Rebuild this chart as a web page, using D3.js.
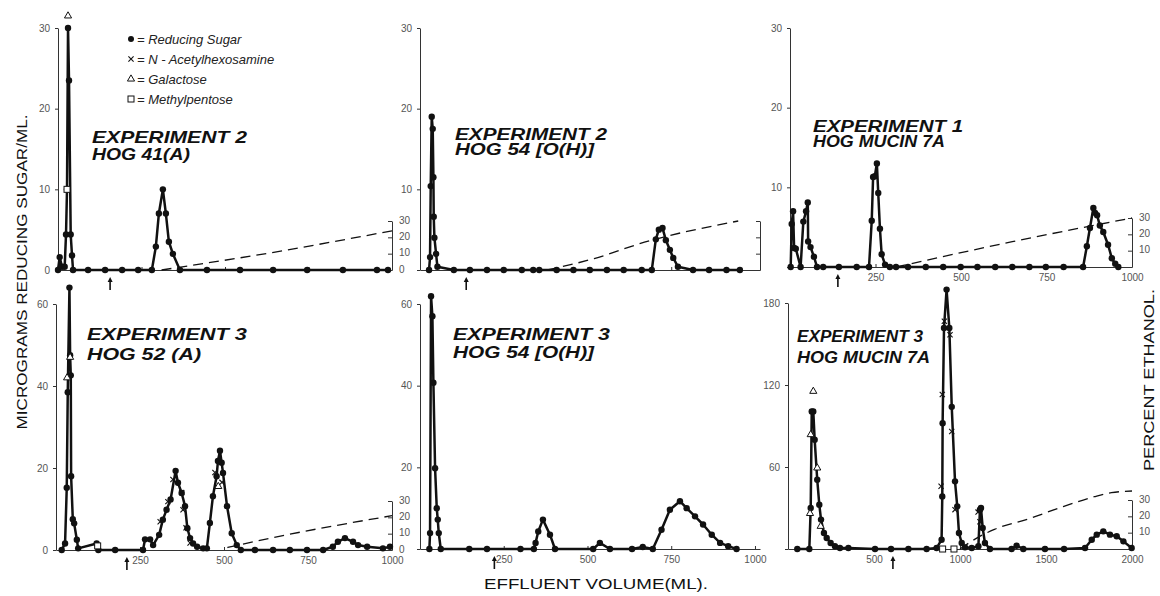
<!DOCTYPE html>
<html>
<head>
<meta charset="utf-8">
<script src="https://cdn.jsdelivr.net/npm/d3@7"></script>
<style>
  body { margin: 0; background: #fff; }
  svg { display: block; font-family: 'Liberation Sans', Arial, sans-serif; }
  .tick text { fill: #555; font-size: 10px; }
  .axis path, .axis line { stroke: #333; }
</style>
</head>
<body>
<svg id="chart" width="1160" height="596"></svg>
<script>
'use strict';

// [effluent volume (ml), micrograms reducing sugar / ml]
const sugar1 = [[0,0],[5,1.6],[12,0.4],[20,0.4],[24,4.4],[27,10],[30,30],[33,23.5],[38,4.4],[42,1.8],[45,0],[90,0],[141,0],[192,0],[240,0],[281,0],[293,2.9],[302,7],[314,10],[323,7],[332,3.5],[344,2],[365,0],[446,0],[545,0],[644,0],[746,0],[853,0],[955,0],[988,0]]
const sugar2 = [[27,0],[30,1.6],[32,10.4],[35,19],[38,17.5],[40,11.5],[41,6.6],[43,4],[48,2],[52,0.4],[101,0],[149,0],[200,0],[250,0],[304,0],[338,0],[356,0],[408,0],[458,0],[507,0],[558,0],[608,0],[662,0],[692,0],[704,3.8],[713,5],[724,5.2],[734,3.7],[746,2.5],[756,1.5],[770,0.4],[815,0],[863,0],[915,0],[955,0]]
const sugar3 = [[2,0],[5,5.4],[9,7],[12,2.4],[17,2.3],[31,0],[39,5.7],[47,7],[52,8.1],[53,3.2],[60,2.5],[70,1.3],[79,0],[97,0],[143,0],[195,0],[231,0],[239,5.8],[243,11.3],[248,11.4],[254,13],[258,9.3],[263,4.8],[268,1.6],[278,0.3],[292,0],[310,0],[345,0],[397,0],[448,0],[499,0],[548,0],[600,0],[650,0],[700,0],[748,0],[800,0],[857,0],[868,2.6],[877,4.9],[887,7.4],[892,6.8],[898,6.5],[906,5.2],[916,4.4],[930,2.8],[941,1.1],[951,0.4],[960,0]]
const sugar4 = [[17,0],[27,1.6],[32,15.2],[35,38.5],[40,64],[42,47.5],[44,42.6],[45,18],[50,7.5],[54,6.5],[62,2.5],[66,0.4],[121,1.6],[126,0],[176,0],[259,0],[265,2.6],[280,2.6],[289,1.2],[307,3.7],[318,7.4],[329,9.8],[341,12.3],[356,19.3],[363,16.4],[374,13.9],[384,10.7],[391,5.3],[399,2.9],[408,1.6],[420,0.8],[438,0.4],[449,0.4],[458,6.6],[467,13.1],[478,18],[482,21.7],[488,24.2],[493,21.3],[497,18.8],[509,10.7],[523,4.1],[538,1.2],[550,0],[592,0],[646,0],[696,0],[747,0],[795,0],[824,0.8],[839,2],[860,2.9],[884,2],[899,1.2],[926,0.8],[973,0.4],[994,0.8]]
const sugar5 = [[28,0],[30,3.9],[33,61.9],[37,57],[40,40.7],[45,19.8],[50,10],[53,7.2],[56,3.9],[62,0],[147,0],[200,0],[300,0],[340,0],[345,1.5],[353,4.3],[367,7.2],[388,3.5],[403,0],[517,0],[537,1.5],[567,0],[633,0],[665,0.5],[695,0],[721,4.7],[746,9.6],[776,11.7],[796,10],[821,8],[845,6],[871,3.5],[896,1.5],[920,0.7],[945,0]]
const sugar6 = [[54,0],[124,0],[132,30],[138,100.7],[147,100.7],[155,80],[170,50.7],[182,32.4],[192,21.5],[209,11.7],[225,8],[248,4.4],[273,2],[302,0.7],[351,0.7],[506,0],[599,0],[700,0],[806,0],[864,0.7],[893,6.8],[897,38.5],[899,92],[907,161.7],[922,189.8],[938,161.7],[952,104],[971,49.5],[984,31.2],[994,11.7],[1010,4.4],[1029,1.2],[1068,0.7],[1107,2],[1116,28.8],[1122,30],[1132,15.4],[1145,4.4],[1174,0],[1300,0],[1329,2.4],[1368,0],[1494,0],[1605,0],[1727,0.7],[1766,6.8],[1795,10.5],[1833,12.9],[1872,10.5],[1911,9.3],[1950,5.6],[1998,0.7]]

// [volume, percent ethanol]
const ethanol1 = [[310,0],[650,11],[1000,24]]
const ethanol2 = [[380,0],[520,7],[670,17],[950,30]]
const ethanol3 = [[310,0],[650,15.5],[1000,30]]
const ethanol4 = [[510,1.5],[680,9],[1000,21]]
const ethanol6 = [[1000,0],[1120,8],[1200,12],[1400,18.5],[1600,26],[1780,32],[1880,34.5],[2000,35.5]]

// other sugars [volume, value]
const acetyl4 = [[310,6.9],[333,11.8],[348,17.2],[374,14],[378,9.8],[387,5.4],[399,1.7],[473,18.9],[494,16.5]]
const acetyl6 = [[890,45.9],[897,113],[909,166.6],[942,156.8],[952,86],[971,28.8],[1105,27],[1116,20]]
const galactose1 = [[30,31.5]]
const galactose4 = [[33,42],[42,47],[483,15.5]]
const galactose6 = [[128,26],[132,83.7],[147,115.4],[170,59.3],[190,16.6]]
const methyl1 = [[27,10]]
const methyl4 = [[124,1]]
const methyl6 = [[899,0],[965,0]]

// start of ethanol gradient (arrow), volume
const arrows = [156, 138, 140, 211, 222, 610]

const titles = [
  ['EXPERIMENT 2', 'HOG 41(A)'],
  ['EXPERIMENT 2', 'HOG 54 [O(H)]'],
  ['EXPERIMENT 1', 'HOG MUCIN 7A'],
  ['EXPERIMENT 3', 'HOG 52 (A)'],
  ['EXPERIMENT 3', 'HOG 54 [O(H)]'],
  ['EXPERIMENT 3', 'HOG MUCIN 7A']
]

const legendLabels = ['= Reducing Sugar', '= N - Acetylhexosamine', '= Galactose', '= Methylpentose']

const panels = [
  {sugar: sugar1, ethanol: ethanol1, acetyl: [], galactose: galactose1, methyl: methyl1,
   left: 58, right: 392, bottom: 270, top: 28, xMax: 1000, yMax: 30, yTicks: [0,10,20,30], yHide: [],
   xTicks: [250,500,750], xLabels: false, eth: 'labels',
   tx: 92, ty: [143, 160], tw: [155, 98], fs: 17},
  {sugar: sugar2, ethanol: ethanol2, acetyl: [], galactose: [], methyl: [],
   left: 420, right: 760, bottom: 270, top: 28, xMax: 1015, yMax: 30, yTicks: [0,10,20,30], yHide: [0],
   xTicks: [250,500,750], xLabels: false, eth: 'plain',
   tx: 455, ty: [140, 155], tw: [152, 139], fs: 16},
  {sugar: sugar3, ethanol: ethanol3, acetyl: [], galactose: [], methyl: [],
   left: 790, right: 1132, bottom: 267, top: 28, xMax: 1000, yMax: 30, yTicks: [0,10,20,30], yHide: [0],
   xTicks: [250,500,750,1000], xLabels: true, eth: 'top3',
   tx: 813, ty: [132, 147], tw: [150, 132], fs: 16},
  {sugar: sugar4, ethanol: ethanol4, acetyl: acetyl4, galactose: galactose4, methyl: methyl4,
   left: 56, right: 392, bottom: 550, top: 304, xMax: 1000, yMax: 60, yTicks: [0,20,40,60], yHide: [],
   xTicks: [250,500,750,1000], xLabels: true, eth: 'labels',
   tx: 87, ty: [340, 360], tw: [160, 114], fs: 16},
  {sugar: sugar5, ethanol: null, acetyl: [], galactose: [], methyl: [],
   left: 420, right: 760, bottom: 549, top: 304, xMax: 1015, yMax: 60, yTicks: [0,20,40,60], yHide: [0],
   xTicks: [250,500,750,1000], xLabels: true, eth: null,
   tx: 453, ty: [340, 358], tw: [157, 141], fs: 16},
  {sugar: sugar6, ethanol: ethanol6, acetyl: acetyl6, galactose: galactose6, methyl: methyl6,
   left: 788, right: 1132, bottom: 549, top: 303, xMax: 2000, yMax: 180, yTicks: [0,60,120,180], yHide: [0],
   xTicks: [500,1000,1500,2000], xLabels: true, eth: 'top3',
   tx: 797, ty: [342, 363], tw: [126, 133], fs: 16}
]

const svg = d3.select('#chart')

function cross(g, x, y, s) {
  g.append('path')
    .attr('d', 'M' + (x - s) + ',' + (y - s) + 'L' + (x + s) + ',' + (y + s) +
               'M' + (x - s) + ',' + (y + s) + 'L' + (x + s) + ',' + (y - s))
    .attr('stroke', '#111').attr('stroke-width', 1.1).attr('fill', 'none')
}

function drawPanel(p, i) {
  const x = d3.scaleLinear().domain([0, p.xMax]).range([p.left, p.right])
  const y = d3.scaleLinear().domain([0, p.yMax]).range([p.bottom, p.top])
  const g = svg.append('g')

  // axes
  const xAxis = d3.axisBottom(x).tickValues(p.xTicks).tickSizeInner(-3).tickSizeOuter(0).tickPadding(7)
    .tickFormat(p.xLabels ? d3.format('d') : '')
  g.append('g').attr('class', 'axis')
    .attr('transform', 'translate(0,' + p.bottom + ')')
    .call(xAxis)

  const yAxis = d3.axisLeft(y).tickValues(p.yTicks).tickSize(3).tickSizeOuter(0).tickPadding(5)
    .tickFormat(function(d) { return p.yHide.indexOf(d) >= 0 ? '' : d })
  g.append('g').attr('class', 'axis')
    .attr('transform', 'translate(' + p.left + ',0)')
    .call(yAxis)

  if (p.eth) {
    const e = d3.scaleLinear().domain([0, 30]).range([p.bottom, p.bottom - 49])
    const eAxis = d3.axisRight(e).tickValues([0,10,20,30]).tickSizeInner(-4).tickSizeOuter(0).tickPadding(7)
    if (p.eth === 'plain') eAxis.tickFormat('')
    if (p.eth === 'top3') eAxis.tickFormat(function(d) { return d === 0 ? '' : d })
    const eg = g.append('g').attr('class', 'axis')
      .attr('transform', 'translate(' + p.right + ',0)')
      .call(eAxis)
    eg.selectAll('.tick text').attr('dy', '0.2em')

    if (p.ethanol) {
      g.append('path')
        .datum(p.ethanol)
        .attr('d', d3.line().curve(d3.curveMonotoneX)
          .x(function(d) { return x(d[0]) })
          .y(function(d) { return e(d[1]) }))
        .attr('fill', 'none')
        .attr('stroke', '#111')
        .attr('stroke-width', 1.3)
        .attr('stroke-dasharray', '10,6')
    }
  }

  // reducing sugar
  g.append('path')
    .datum(p.sugar)
    .attr('d', d3.line()
      .x(function(d) { return x(d[0]) })
      .y(function(d) { return y(d[1]) }))
    .attr('fill', 'none')
    .attr('stroke', '#111')
    .attr('stroke-width', 2.5)
    .attr('stroke-linejoin', 'round')

  g.selectAll('circle.sugar')
    .data(p.sugar)
    .enter().append('circle')
    .attr('class', 'sugar')
    .attr('cx', function(d) { return x(d[0]) })
    .attr('cy', function(d) { return y(d[1]) })
    .attr('r', 3.2)
    .attr('fill', '#111')

  p.acetyl.forEach(function(d) { cross(g, x(d[0]), y(d[1]), 2.6) })

  g.selectAll('path.gal')
    .data(p.galactose)
    .enter().append('path')
    .attr('class', 'gal')
    .attr('d', d3.symbol(d3.symbolTriangle, 22))
    .attr('transform', function(d) { return 'translate(' + x(d[0]) + ',' + y(d[1]) + ')' })
    .attr('fill', '#fff')
    .attr('stroke', '#111')
    .attr('stroke-width', 1)

  g.selectAll('rect.methyl')
    .data(p.methyl)
    .enter().append('rect')
    .attr('class', 'methyl')
    .attr('x', function(d) { return x(d[0]) - 3 })
    .attr('y', function(d) { return y(d[1]) - 3 })
    .attr('width', 6)
    .attr('height', 6)
    .attr('fill', '#fff')
    .attr('stroke', '#111')
    .attr('stroke-width', 1)

  // gradient start arrow
  const ax = x(arrows[i])
  g.append('path')
    .attr('d', 'M' + ax + ',' + (p.bottom + 20) + 'L' + ax + ',' + (p.bottom + 10))
    .attr('stroke', '#111').attr('stroke-width', 1.6)
  g.append('path')
    .attr('d', 'M' + (ax - 2.5) + ',' + (p.bottom + 12) + 'L' + ax + ',' + (p.bottom + 7) + 'L' + (ax + 2.5) + ',' + (p.bottom + 12) + 'Z')
    .attr('fill', '#111')

  // title
  titles[i].forEach(function(t, k) {
    g.append('text')
      .attr('x', p.tx)
      .attr('y', p.ty[k])
      .attr('textLength', p.tw[k])
      .attr('lengthAdjust', 'spacingAndGlyphs')
      .style('font-size', p.fs + 'px')
      .style('font-weight', 'bold')
      .style('font-style', 'italic')
      .attr('fill', '#111')
      .text(t)
  })
}

panels.forEach(drawPanel)

// legend
const legend = svg.append('g').attr('transform', 'translate(131,0)')
const legendY = [39, 59, 79, 99]
legend.append('circle').attr('cx', 0).attr('cy', legendY[0]).attr('r', 3).attr('fill', '#111')
cross(legend, 0, legendY[1], 2.6)
legend.append('path').attr('d', d3.symbol(d3.symbolTriangle, 22))
  .attr('transform', 'translate(0,' + legendY[2] + ')')
  .attr('fill', '#fff').attr('stroke', '#111')
legend.append('rect').attr('x', -3).attr('y', legendY[3] - 3).attr('width', 6).attr('height', 6)
  .attr('fill', '#fff').attr('stroke', '#111')
legend.selectAll('text')
  .data(legendLabels)
  .enter().append('text')
  .attr('x', 6)
  .attr('y', function(d, i) { return legendY[i] + 4.5 })
  .style('font-size', '13px')
  .style('font-style', 'italic')
  .attr('fill', '#222')
  .text(function(d) { return d })

// axis titles
svg.append('text')
  .attr('transform', 'translate(27,272) rotate(-90)')
  .attr('text-anchor', 'middle')
  .attr('textLength', 315)
  .attr('lengthAdjust', 'spacingAndGlyphs')
  .style('font-size', '15px')
  .attr('fill', '#111')
  .text('MICROGRAMS REDUCING SUGAR/ML.')

svg.append('text')
  .attr('transform', 'translate(1154,380) rotate(-90)')
  .attr('text-anchor', 'middle')
  .attr('textLength', 182)
  .attr('lengthAdjust', 'spacingAndGlyphs')
  .style('font-size', '15px')
  .attr('fill', '#111')
  .text('PERCENT ETHANOL.')

svg.append('text')
  .attr('x', 596)
  .attr('y', 589)
  .attr('text-anchor', 'middle')
  .attr('textLength', 224)
  .attr('lengthAdjust', 'spacingAndGlyphs')
  .style('font-size', '15px')
  .attr('fill', '#111')
  .text('EFFLUENT VOLUME(ML).')
</script>
</body>
</html>
